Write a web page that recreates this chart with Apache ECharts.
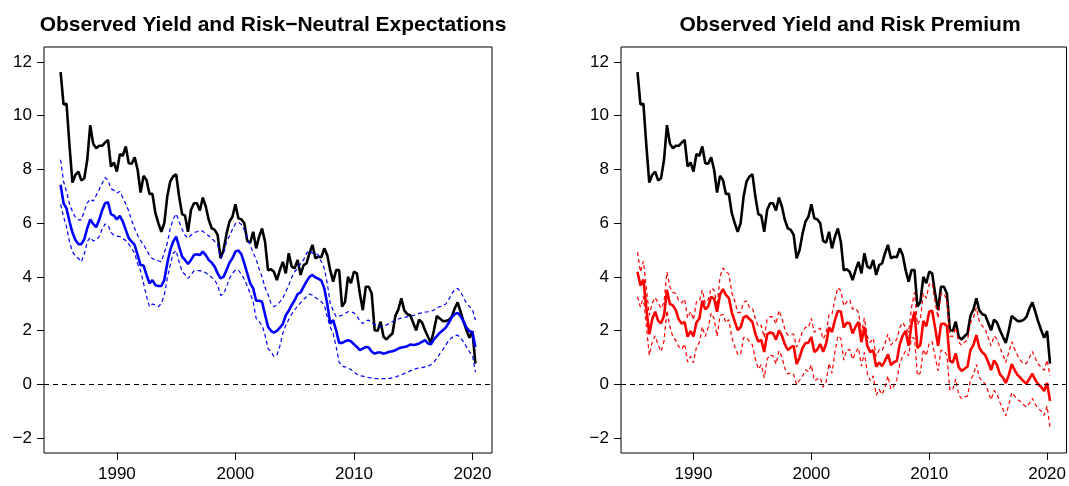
<!DOCTYPE html>
<html>
<head>
<meta charset="utf-8">
<script src="https://cdn.jsdelivr.net/npm/echarts@6/dist/echarts.min.js"></script>
<style>
html,body{margin:0;padding:0;background:#fff;}
#chart{width:1069px;height:486px;}
</style>
</head>
<body>
<div id="chart"></div>
<script>
// Quarterly observations, 1985Q2 .. 2020Q2
const firstQuarter = 1985.25;
const quarterStep = 0.25;

const titles = ["Observed Yield and Risk\u2212Neutral Expectations", "Observed Yield and Risk Premium"];
const xTickLabels = [1990, 2000, 2010, 2020];
const yTickLabels = [-2, 0, 2, 4, 6, 8, 10, 12];

// Observed yield (black)
const observedYield = [
11.62,10.42,10.45,8.9,7.51,7.8,7.92,7.59,7.67,8.36,
9.65,8.96,8.79,8.88,8.88,9.0,9.1,8.11,8.26,7.92,
8.57,8.51,8.86,8.23,8.21,8.45,7.99,7.14,7.76,7.61,
7.09,7.09,6.37,6.0,5.68,6.0,6.99,7.55,7.74,7.82,
6.99,6.34,6.28,5.68,6.49,6.74,6.74,6.47,6.95,6.62,
6.12,5.81,5.75,5.56,4.69,5.0,5.6,6.06,6.24,6.70,
6.18,6.14,6.0,5.34,5.27,5.68,5.06,5.5,5.8,5.31,
4.25,4.28,4.19,3.88,4.25,4.56,4.13,4.88,4.38,4.32,
4.63,4.07,4.44,4.5,4.88,5.19,4.69,4.75,4.73,5.06,
4.81,4.25,3.82,4.25,4.25,2.89,3.07,4.0,3.76,4.19,
4.13,3.38,2.76,3.63,3.63,3.38,2.01,1.99,2.33,1.77,
1.67,1.79,1.89,2.55,2.79,3.2,2.75,2.61,2.57,2.29,
2.01,2.41,2.3,2.01,1.77,1.54,2.01,2.54,2.45,2.35,
2.35,2.4,2.51,2.82,3.05,2.7,2.33,2.01,1.73,1.98,
0.77];

// Risk-neutral expectations (blue) and its bands
const rnMean = [
7.43,6.74,6.55,6.06,5.65,5.37,5.22,5.22,5.40,5.81,
6.14,5.97,5.85,6.12,6.47,6.74,6.78,6.34,6.28,6.14,
6.27,6.06,5.75,5.44,5.31,5.19,4.81,4.44,4.42,4.07,
3.76,3.88,3.69,3.66,3.66,3.88,4.50,5.00,5.31,5.50,
5.12,4.75,4.63,4.48,4.63,4.81,4.84,4.81,4.94,4.81,
4.63,4.53,4.38,4.13,3.94,4.0,4.25,4.53,4.69,4.94,
4.98,4.85,4.5,4.13,3.76,3.57,3.11,3.11,3.07,2.6,
2.14,1.99,1.92,1.99,2.11,2.24,2.57,2.74,2.95,3.13,
3.36,3.42,3.63,3.83,4.0,4.07,3.98,3.93,3.86,3.57,
3.0,2.26,2.39,2.01,1.54,1.54,1.6,1.64,1.6,1.49,
1.39,1.27,1.33,1.39,1.37,1.21,1.14,1.18,1.18,1.14,
1.17,1.21,1.23,1.27,1.33,1.37,1.39,1.42,1.48,1.46,
1.48,1.52,1.58,1.64,1.52,1.49,1.67,1.79,1.92,2.01,
2.11,2.29,2.49,2.61,2.66,2.54,2.33,2.11,1.98,1.93,
1.39];
const rnUpper = [
8.36,7.55,7.18,6.72,6.43,6.22,6.12,6.12,6.45,6.75,
6.9,6.82,7.03,7.25,7.48,7.7,7.6,7.28,7.22,7.12,
7.18,6.95,6.72,6.45,6.1,5.8,5.55,5.35,5.2,5.0,
4.8,4.68,4.62,4.6,4.56,4.9,5.25,5.8,6.15,6.35,
6.05,5.78,5.55,5.44,5.55,5.65,5.68,5.72,5.7,5.6,
5.53,5.43,5.32,5.2,4.7,4.85,5.3,5.52,5.77,5.98,
6.04,5.95,5.75,5.45,5.18,4.9,4.65,4.3,4.0,3.6,
3.35,3.01,2.89,2.95,3.07,3.2,3.45,3.69,3.98,4.19,
4.32,4.48,4.63,4.88,4.98,4.88,4.88,4.81,4.56,4.32,
3.76,3.01,2.76,2.51,2.54,2.57,2.64,2.7,2.7,2.66,
2.54,2.36,2.26,2.36,2.39,2.29,2.23,2.19,2.14,2.16,
2.21,2.26,2.33,2.39,2.43,2.46,2.49,2.51,2.55,2.56,
2.59,2.64,2.66,2.69,2.7,2.72,2.76,2.85,2.89,2.92,
2.99,3.16,3.36,3.53,3.57,3.45,3.23,3.01,2.89,2.79,
2.39];
const rnLower = [
6.7,6.24,5.87,5.31,4.94,4.78,4.69,4.56,4.85,5.31,
5.47,5.34,5.37,5.5,5.77,5.97,5.93,5.65,5.56,5.52,
5.5,5.42,5.35,5.22,5.06,4.88,4.48,4.23,3.76,3.28,
2.89,2.99,2.95,2.89,3.01,3.32,3.94,4.44,4.88,4.98,
4.56,4.19,4.09,3.94,4.07,4.22,4.23,4.23,4.2,4.15,
4.07,3.98,3.88,3.69,3.31,3.36,3.63,3.94,4.13,4.25,
4.25,4.1,3.91,3.66,3.38,3.07,2.45,2.33,2.2,1.83,
1.33,1.21,1.04,1.08,1.42,1.89,2.2,2.41,2.61,2.76,
2.92,3.03,3.16,3.26,3.36,3.32,3.23,3.16,3.07,2.95,
2.51,2.14,1.89,1.39,0.83,0.67,0.65,0.61,0.55,0.46,
0.37,0.32,0.3,0.27,0.25,0.24,0.22,0.21,0.21,0.21,
0.21,0.22,0.24,0.27,0.31,0.35,0.4,0.44,0.5,0.55,
0.58,0.61,0.62,0.65,0.67,0.73,0.83,0.96,1.14,1.29,
1.46,1.64,1.73,1.82,1.83,1.73,1.58,1.39,1.21,1.08,
0.45];

// Risk premium (red) and its bands
const rpMean = [
4.19,3.68,3.90,2.84,1.86,2.43,2.70,2.37,2.27,2.55,
3.51,2.99,2.94,2.76,2.41,2.26,2.32,1.77,1.98,1.78,
2.30,2.45,3.11,2.79,2.90,3.26,3.18,2.70,3.34,3.54,
3.33,3.21,2.68,2.34,2.02,2.12,2.49,2.55,2.43,2.32,
1.87,1.59,1.65,1.20,1.86,1.93,1.90,1.66,2.01,1.81,
1.49,1.28,1.37,1.43,0.75,1.00,1.35,1.53,1.55,1.76,
1.20,1.29,1.50,1.21,1.51,2.11,1.95,2.39,2.73,2.71,
2.11,2.29,2.27,1.89,2.14,2.32,1.56,2.14,1.43,1.19,
1.27,0.65,0.81,0.67,0.88,1.12,0.71,0.82,0.87,1.49,
1.81,1.99,1.43,2.24,2.71,1.35,1.47,2.36,2.16,2.70,
2.74,2.11,1.43,2.24,2.26,2.17,0.87,0.81,1.15,0.63,
0.50,0.58,0.66,1.28,1.46,1.83,1.36,1.19,1.09,0.83,
0.53,0.89,0.72,0.37,0.25,0.05,0.34,0.75,0.53,0.34,
0.24,0.11,0.02,0.21,0.39,0.16,0.00,-0.10,-0.25,0.05,
-0.62];
const rpUpper = [
4.92,4.18,4.58,3.59,2.57,3.02,3.23,3.03,2.82,3.05,
4.18,3.62,3.42,3.38,3.11,3.03,3.17,2.46,2.70,2.40,
3.07,3.09,3.51,3.01,3.15,3.57,3.51,2.91,4.00,4.33,
4.20,4.10,3.42,3.11,2.67,2.68,3.05,3.11,2.86,2.84,
2.43,2.15,2.19,1.74,2.42,2.52,2.51,2.24,2.75,2.47,
2.05,1.83,1.87,1.87,1.38,1.64,1.97,2.12,2.11,2.45,
1.93,2.04,2.09,1.68,1.89,2.61,2.61,3.17,3.60,3.48,
2.92,3.07,3.15,2.80,2.83,2.67,1.93,2.47,1.77,1.56,
1.71,1.04,1.28,1.24,1.52,1.87,1.46,1.59,1.66,2.11,
2.30,2.11,1.93,2.86,3.42,2.22,2.42,3.39,3.21,3.73,
3.76,3.06,2.46,3.36,3.38,3.14,1.79,1.78,2.12,1.56,
1.46,1.57,1.65,2.28,2.48,2.85,2.35,2.17,2.07,1.74,
1.43,1.80,1.68,1.36,1.10,0.81,1.18,1.58,1.31,1.06,
0.89,0.76,0.78,1.00,1.22,0.97,0.75,0.62,0.52,0.90,
0.32];
const rpLower = [
3.26,2.87,3.27,2.18,1.08,1.58,1.80,1.47,1.22,1.61,
2.75,2.14,1.76,1.63,1.40,1.30,1.50,0.83,1.04,0.80,
1.39,1.56,2.14,1.78,2.11,2.65,2.44,1.79,2.56,2.61,
2.29,2.41,1.75,1.40,1.12,1.10,1.74,1.75,1.59,1.47,
0.94,0.56,0.73,0.24,0.94,1.09,1.06,0.75,1.25,1.02,
0.59,0.38,0.43,0.36,-0.01,0.15,0.30,0.54,0.47,0.72,
0.14,0.19,0.25,-0.11,0.09,0.78,0.41,1.20,1.80,1.71,
0.90,1.27,1.30,0.93,1.18,1.36,0.68,1.19,0.40,0.13,
0.31,-0.41,-0.19,-0.38,-0.10,0.31,-0.19,-0.06,0.17,0.74,
1.05,1.24,1.06,1.74,1.71,0.32,0.43,1.30,1.06,1.53,
1.59,1.02,0.50,1.27,1.24,1.09,-0.22,-0.20,0.19,-0.39,
-0.54,-0.47,-0.44,0.16,0.36,0.74,0.26,0.10,0.02,-0.27,
-0.58,-0.23,-0.36,-0.68,-0.93,-1.18,-0.75,-0.31,-0.44,-0.57,
-0.64,-0.76,-0.85,-0.71,-0.52,-0.75,-0.90,-1.00,-1.16,-0.81,
-1.62];

const quarters = observedYield.map((_, i) => firstQuarter + quarterStep * i);
const pairs = arr => arr.map((v, i) => [quarters[i], v]);

const FONT = "'Liberation Sans', Arial, Helvetica, sans-serif";
const xMin = 1983.85, xMax = 2021.65, yMin = -2.56, yMax = 12.56;

const grids = [
  {left: 44, top: 47, width: 448, height: 406},
  {left: 621, top: 47, width: 446, height: 406}
];

function xAxisFor(idx) {
  return {
    gridIndex: idx, type: 'value', position: 'bottom', min: xMin, max: xMax,
    axisLine: {show: false, onZero: false}, splitLine: {show: false},
    axisTick: {show: true, inside: false, length: 7, customValues: xTickLabels,
      lineStyle: {color: '#000', width: 1}},
    axisLabel: {customValues: xTickLabels, color: '#000', fontSize: 17, margin: 13,
      fontFamily: FONT, formatter: v => String(v)}
  };
}
function yAxisFor(idx) {
  return {
    gridIndex: idx, type: 'value', position: 'left', min: yMin, max: yMax,
    axisLine: {show: false, onZero: false}, splitLine: {show: false},
    axisTick: {show: true, inside: false, length: 7, customValues: yTickLabels,
      lineStyle: {color: '#000', width: 1}},
    axisLabel: {customValues: yTickLabels, color: '#000', fontSize: 17, margin: 12,
      fontFamily: FONT, formatter: v => String(v).replace('-', '\u2212')}
  };
}

function lineSeries(idx, data, color, width, dashed, z) {
  return {
    type: 'line', xAxisIndex: idx, yAxisIndex: idx, data: pairs(data),
    showSymbol: false, symbol: 'none', smooth: false, z: z, silent: true,
    lineStyle: {color: color, width: width, type: dashed ? [4, 3] : 'solid'},
    clip: true
  };
}
function zeroLine(idx) {
  return {
    type: 'line', xAxisIndex: idx, yAxisIndex: idx, data: [], silent: true, z: 10,
    markLine: {silent: true, symbol: ['none', 'none'], label: {show: false},
      lineStyle: {color: '#000', width: 1, type: [5, 4]},
      data: [{yAxis: 0}], animation: false}
  };
}

const chart = echarts.init(document.getElementById('chart'), null, {renderer: 'canvas'});
chart.setOption({
  animation: false,
  backgroundColor: '#fff',
  title: [
    {text: titles[0], left: 268, top: 10, textAlign: 'center',
      textStyle: {fontSize: 21, fontWeight: 'bold', color: '#000', fontFamily: FONT}},
    {text: titles[1], left: 845, top: 10, textAlign: 'center',
      textStyle: {fontSize: 21, fontWeight: 'bold', color: '#000', fontFamily: FONT}}
  ],
  grid: grids.map(g => Object.assign({show: true, borderColor: '#000', borderWidth: 1,
    backgroundColor: 'transparent', containLabel: false}, g)),
  xAxis: [xAxisFor(0), xAxisFor(1)],
  yAxis: [yAxisFor(0), yAxisFor(1)],
  series: [
    lineSeries(0, observedYield, '#000', 2.6, false, 2),
    lineSeries(0, rnUpper, '#0000ff', 1.2, true, 3),
    lineSeries(0, rnLower, '#0000ff', 1.2, true, 3),
    lineSeries(0, rnMean, '#0000ff', 2.6, false, 4),
    zeroLine(0),
    lineSeries(1, observedYield, '#000', 2.6, false, 2),
    lineSeries(1, rpUpper, '#ff0000', 1.2, true, 3),
    lineSeries(1, rpLower, '#ff0000', 1.2, true, 3),
    lineSeries(1, rpMean, '#ff0000', 2.6, false, 4),
    zeroLine(1)
  ]
});
</script>
</body>
</html>
